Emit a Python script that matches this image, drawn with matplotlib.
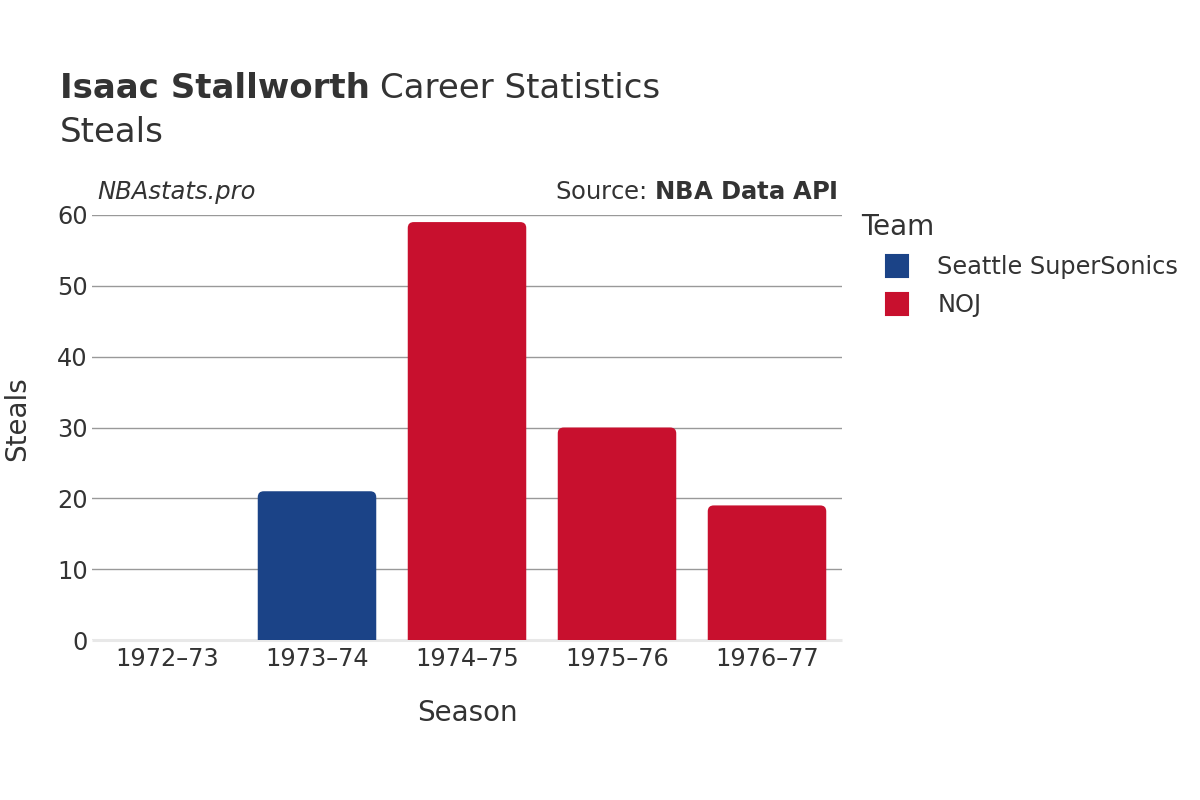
import matplotlib.pyplot as plt
from matplotlib.lines import Line2D
from matplotlib.patches import FancyBboxPatch

# data
seasons = ["1972\u201373", "1973\u201374", "1974\u201375", "1975\u201376", "1976\u201377"]
teams = ["", "Seattle SuperSonics", "NOJ", "NOJ", "NOJ"]
steals = [0, 21, 59, 30, 19]

team_names = ["Seattle SuperSonics", "NOJ"]
team_colors = {"Seattle SuperSonics": "#1b4387", "NOJ": "#c8102e"}

txt = "#333333"
plt.rcParams['font.family'] = ['DejaVu Sans']

fig = plt.figure(figsize=(12, 8), dpi=100)
ax = fig.add_axes([92 / 1200, 0.2, 750 / 1200, 425 / 800])

x = list(range(len(seasons)))
colors = [team_colors.get(t, "#ffffff") for t in teams]
bars = ax.bar(x, steals, width=0.79, color=colors, zorder=3)

# swap the square bars for ones with rounded top corners
for b in bars:
    bx, by = b.get_x(), b.get_y()
    w, h = b.get_width(), b.get_height()
    if h <= 0:
        continue
    b.set_visible(False)
    rb = FancyBboxPatch((bx, by - 1), w, h + 1,
                        boxstyle="round,pad=0,rounding_size=0.04",
                        mutation_aspect=21, facecolor=b.get_facecolor(),
                        edgecolor='none', zorder=3)
    ax.add_patch(rb)

ax.set_xlim(-0.5, len(seasons) - 0.5)
ax.set_ylim(0, 60)
ax.set_yticks(range(0, 61, 10))
ax.set_xticks(x)
ax.set_xticklabels(seasons)
ax.grid(axis='y', color="#999999", linewidth=1, zorder=0)
ax.axhline(0, color="#e8e8e8", linewidth=2.2, zorder=2, clip_on=False,
           solid_capstyle='butt')
for s in ax.spines.values():
    s.set_visible(False)
ax.tick_params(length=0, labelsize=17.3, labelcolor=txt)
ax.tick_params(axis='y', pad=3)
ax.tick_params(axis='x', pad=5)
ax.set_xlabel("Season", fontsize=20, color=txt, labelpad=20)
fig.text(17 / 1200, 1 - 419 / 800, "Steals", fontsize=20, color=txt, rotation=90,
         ha='center', va='center')

# titles
t1 = fig.text(60 / 1200, 1 - 89 / 800, "Isaac Stallworth", fontsize=24.5, fontweight='bold',
              color=txt, va='center', ha='left')
fig.canvas.draw()
ext = t1.get_window_extent()
fig.text((ext.x1 + 10) / 1200, 1 - 89 / 800, "Career Statistics", fontsize=24.5, color=txt,
         va='center', ha='left')
fig.text(60 / 1200, 1 - 133 / 800, "Steals", fontsize=24.5, color=txt, va='center', ha='left')

fig.text(97 / 1200, 1 - 192 / 800, "NBAstats.pro", fontsize=17.5, style='italic',
         color=txt, va='center', ha='left')
fig.text(838 / 1200, 1 - 192 / 800, r"Source: $\bf{NBA\ Data\ API}$", fontsize=17.5,
         color=txt, va='center', ha='right')

# legend
fig.text(861 / 1200, 1 - 227 / 800, "Team", fontsize=20, color=txt, va='center', ha='left')
handles = [Line2D([0], [0], marker='s', linestyle='', markersize=16,
                  markerfacecolor=team_colors[t], markeredgecolor=team_colors[t],
                  markeredgewidth=1.5)
           for t in team_names]
leg = fig.legend(handles, team_names, loc='upper left',
                 bbox_to_anchor=(873 / 1200, 1 - 255 / 800), frameon=False,
                 fontsize=17.3, labelcolor=txt, borderpad=0, borderaxespad=0,
                 handletextpad=0.67, labelspacing=0.58)

fig.savefig("out.png", dpi=100, facecolor="white")
